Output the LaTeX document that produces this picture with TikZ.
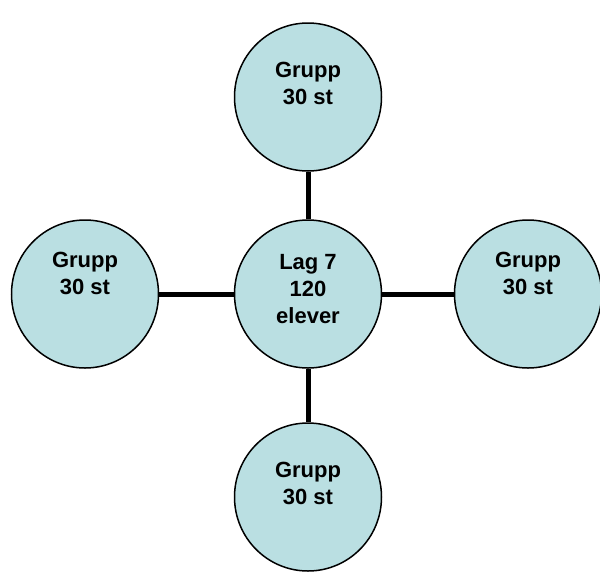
\documentclass[tikz,border=0pt]{standalone}
\usepackage{fontspec}
\setmainfont{Liberation Sans}
\usetikzlibrary{shapes.geometric}
\definecolor{grpfill}{RGB}{186,223,226}
\tikzset{
  grp/.style={ellipse, draw=black, line width=1.5pt, fill=grpfill,
    minimum width=147pt, minimum height=148pt, inner sep=0pt},
  grptext/.style={anchor=north, inner sep=0pt, align=center,
    font=\fontsize{22}{27}\selectfont\bfseries},
  link/.style={line width=5pt}
}
\begin{document}
\begin{tikzpicture}[x=1pt,y=-1pt]
	\useasboundingbox (0,0) rectangle (600,571);
	\clip (0,0) rectangle (600,571);
\node[grp] (lag) at (308,294) {}; % Lag.0
\node[grp] (gruppN) at (308,97) {}; % Grupp.N
\node[grp] (gruppW) at (85,294) {}; % Grupp.W
\node[grp] (gruppE) at (528,294) {}; % Grupp.E
\node[grp] (gruppS) at (308,497) {}; % Grupp.S
\draw[link] (lag) -- (gruppN); % lag-N
\draw[link] (lag) -- (gruppW); % lag-W
\draw[link] (lag) -- (gruppE); % lag-E
\draw[link] (lag) -- (gruppS); % lag-S
\node[grptext] (lagText) at (308,254) {Lag 7\\120\\elever}; % Lag.0
\node[grptext] (gruppNText) at (308,62) {Grupp\\30 st}; % Grupp.N
\node[grptext] (gruppWText) at (85,252) {Grupp\\30 st}; % Grupp.W
\node[grptext] (gruppEText) at (528,252) {Grupp\\30 st}; % Grupp.E
\node[grptext] (gruppSText) at (308,462) {Grupp\\30 st}; % Grupp.S

	\end{tikzpicture}
\end{document}
